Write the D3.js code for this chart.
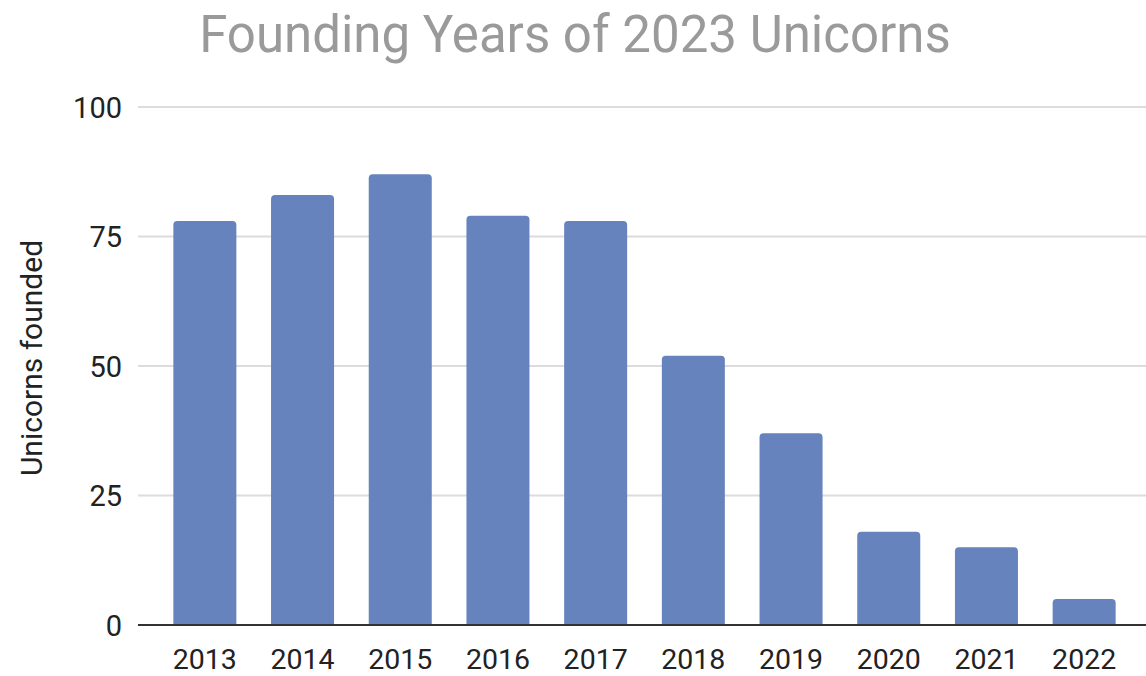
<!DOCTYPE html>
<html>
<head>
<meta charset="utf-8">
<script src="https://cdn.jsdelivr.net/npm/d3@7"></script>
<style>
  html, body { margin: 0; padding: 0; background: #fff; }
  svg { display: block; font-family: Roboto, "Noto Sans", sans-serif; }
</style>
</head>
<body>
<svg id="chart" width="1146" height="676"></svg>
<script>
// Founding years of companies that were unicorns in 2023
const years = ["2013", "2014", "2015", "2016", "2017", "2018", "2019", "2020", "2021", "2022"];
const unicornsFounded = [78, 83, 87, 79, 78, 52, 37, 18, 15, 5];
const yTicks = [0, 25, 50, 75, 100];

const titleText = "Founding Years of 2023 Unicorns";
const yAxisTitle = "Unicorns founded";

const svg = d3.select("#chart");
const plot = { left: 138, right: 1146, top: 107, bottom: 625 };

const x = d3.scaleBand()
  .domain(years)
  .range([156, 1133])
  .paddingInner(0.355)
  .paddingOuter(0.1775);

const y = d3.scaleLinear()
  .domain([0, 100])
  .range([plot.bottom, plot.top]);

// Title
svg.append("text")
  .attr("x", 575)
  .attr("y", 52)
  .attr("text-anchor", "middle")
  .attr("fill", "#9a9a9a")
  .attr("font-size", 51)
  .text(titleText);

// Gridlines
svg.append("g")
  .selectAll("line")
  .data(yTicks.filter(d => d !== 0))
  .join("line")
  .attr("x1", plot.left)
  .attr("x2", plot.right)
  .attr("y1", d => y(d))
  .attr("y2", d => y(d))
  .attr("stroke", "#dcdcdc")
  .attr("stroke-width", 2);

// Y axis labels
const yAxis = d3.axisLeft(y).tickValues(yTicks).tickSize(0).tickPadding(0);
const yG = svg.append("g")
  .attr("transform", `translate(122,0)`)
  .call(yAxis);
yG.select(".domain").remove();
yG.selectAll("text")
  .attr("font-size", 29)
  .attr("font-family", "Roboto, sans-serif")
  .attr("fill", "#222")
  .attr("dy", "0.36em");

// Y axis title
svg.append("text")
  .attr("transform", `translate(42,358) rotate(-90)`)
  .attr("text-anchor", "middle")
  .attr("fill", "#222")
  .attr("font-size", 30)
  .text(yAxisTitle);

// Bars with rounded top corners
const r = 4;
function barPath(d, i) {
  const x0 = x(years[i]), w = x.bandwidth();
  const y0 = y(d), y1 = y(0);
  const rr = Math.min(r, (y1 - y0) / 2);
  return `M${x0},${y1}V${y0 + rr}Q${x0},${y0} ${x0 + rr},${y0}H${x0 + w - rr}Q${x0 + w},${y0} ${x0 + w},${y0 + rr}V${y1}Z`;
}
svg.append("g")
  .selectAll("path")
  .data(unicornsFounded)
  .join("path")
  .attr("d", (d, i) => barPath(d, i))
  .attr("fill", "#6783be");

// Baseline
svg.append("line")
  .attr("x1", plot.left)
  .attr("x2", plot.right)
  .attr("y1", y(0))
  .attr("y2", y(0))
  .attr("stroke", "#333")
  .attr("stroke-width", 2);

// X axis labels
const xAxis = d3.axisBottom(x).tickSize(0).tickPadding(0);
const xG = svg.append("g")
  .attr("transform", `translate(0,${y(0)})`)
  .call(xAxis);
xG.select(".domain").remove();
xG.selectAll("text")
  .attr("font-size", 28.5)
  .attr("font-family", "Roboto, sans-serif")
  .attr("fill", "#222")
  .attr("dy", "0")
  .attr("y", 44);
</script>
</body>
</html>
